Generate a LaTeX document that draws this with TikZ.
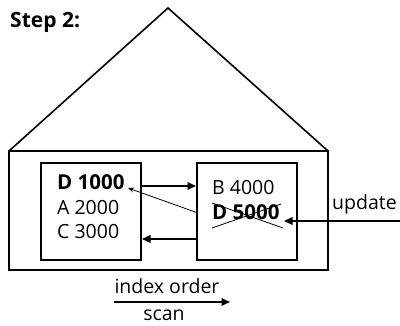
\documentclass[tikz,border=0pt]{standalone}
\usepackage{fontspec}
\setmainfont{Open Sans}
\usetikzlibrary{arrows.meta}
\begin{document}
\begin{tikzpicture}[x=1pt,y=-1pt,
  frame/.style={draw,line width=2pt},
  thick arrow/.style={line width=2pt,-{Triangle[length=8.5pt,width=7.5pt]}},
  thin arrow/.style={line width=0.8pt,-{Stealth[length=6pt,width=5pt]}},
  txt/.style={font=\fontsize{19.5}{23}\selectfont,inner sep=0pt,anchor=base west},
  btxt/.style={font=\fontsize{20.5}{23}\selectfont\bfseries,inner sep=0pt,anchor=base west},
  ctxt/.style={font=\fontsize{19.5}{23}\selectfont,inner sep=0pt,anchor=base}]
\useasboundingbox (0,0) rectangle (400,326);
% header
\node[font=\fontsize{21}{24}\selectfont\bfseries,inner sep=0pt,anchor=base west] (title) at (10,27.3) {Step 2:};
% roof and outer page
\coordinate (apex) at (168,8);
\coordinate (bl) at (9,151);
\coordinate (br) at (328,151);
\draw[line width=1.6pt,line join=miter] (bl) -- (apex) -- (br);
\draw[frame] (9,151) rectangle (328,270);
% leaf boxes
\draw[frame] (41,163) rectangle (141,260);
\draw[frame] (197,163) rectangle (297,260);
\coordinate (lbR1) at (142,186);
\coordinate (rbL1) at (196,186);
\coordinate (rbL2) at (196,239);
\coordinate (lbR2) at (142,239);
% left texts
\node[btxt] (d1) at (57,189.3) {D 1000};
\node[txt] (a2) at (57,214.5) {A 2000};
\node[txt] (c3) at (57,238.5) {C 3000};
% right texts
\node[txt] (b4) at (212,195) {B 4000};
\node[btxt] (d5) at (212,219.3) {D 5000};
\draw[line width=0.8pt] (212,203) -- (283,228);
\draw[line width=0.8pt] (212,228) -- (281,204);
% arrows between boxes
\draw[thick arrow] (lbR1) -- (rbL1);
\draw[thick arrow] (rbL2) -- (lbR2);
\coordinate (moveS) at (198,213);
\coordinate (moveE) at (128,188);
\draw[thin arrow] (moveS) -- (moveE);
% update
\coordinate (updS) at (400,221);
\coordinate (updE) at (284,221);
\draw[thick arrow] (updS) -- (updE);
\node[txt] (upd) at (332,210) {update};
% scan
\node[ctxt] (io) at (167,293.5) {index order};
\coordinate (scS) at (114,302);
\coordinate (scE) at (230,302);
\draw[thick arrow] (scS) -- (scE);
\node[ctxt] (scan) at (164,321) {scan};
\end{tikzpicture}
\end{document}
